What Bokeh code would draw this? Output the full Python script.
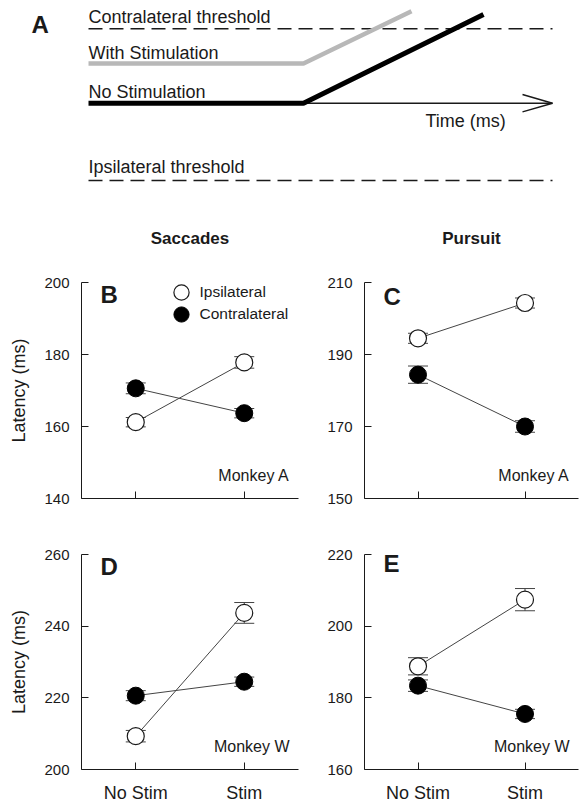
from bokeh.plotting import figure
from bokeh.layouts import column, row
from bokeh.models import (Range1d, FixedTicker, Whisker, TeeHead, ColumnDataSource,
                          Label, Legend, LegendItem, Title)
from bokeh.embed import file_html
from bokeh.resources import INLINE

FONT = "Liberation Sans"
INK = "#1a1a1a"
LINE_GRAY = "#444444"

# ---------------- data ----------------
conditions = ["No Stim", "Stim"]

# Panel B: Saccades, Monkey A
b_ipsi = [161.2, 177.8]
b_ipsi_err = [1.3, 1.6]
b_contra = [170.6, 163.7]
b_contra_err = [1.5, 1.3]

# Panel C: Pursuit, Monkey A
c_ipsi = [194.5, 204.3]
c_ipsi_err = [1.4, 1.4]
c_contra = [184.4, 170.0]
c_contra_err = [2.4, 1.6]

# Panel D: Saccades, Monkey W
d_ipsi = [209.3, 243.7]
d_ipsi_err = [1.6, 2.9]
d_contra = [220.6, 224.5]
d_contra_err = [1.4, 1.3]

# Panel E: Pursuit, Monkey W
e_ipsi = [188.8, 207.4]
e_ipsi_err = [2.4, 3.1]
e_contra = [183.4, 175.5]
e_contra_err = [1.6, 1.3]

b_ticks = [140, 160, 180, 200]
c_ticks = [150, 170, 190, 210]
d_ticks = [200, 220, 240, 260]
e_ticks = [160, 180, 200, 220]

# Panel A schematic (time vs. activity, drawn in schematic units)
sch_stim_t = [88, 303, 411]
sch_stim_a = [63, 63, 10.7]
sch_nostim_t = [88, 303, 483]
sch_nostim_a = [102.7, 102.7, 14]
sch_time_axis_t = [303, 552]
sch_time_axis_a = [102.7, 102.7]
sch_arrowhead_t = [522, 552, 522]
sch_arrowhead_a = [94, 102.7, 111.4]
sch_threshold_t = [88, 552]
sch_contra_thr = 28.3
sch_ipsi_thr = 180

PA_H = 186

# ---------------- panel A ----------------
pa = figure(width=579, height=PA_H, x_range=Range1d(0, 579), y_range=Range1d(PA_H, 0),
            toolbar_location=None, output_backend="svg", x_axis_location=None,
            y_axis_location=None, min_border=0, title=None)
pa.grid.visible = False
pa.outline_line_color = None

pa.line(sch_threshold_t, [sch_contra_thr] * 2, line_color=INK, line_width=1.5, line_dash="14 7")
pa.line(sch_threshold_t, [sch_ipsi_thr] * 2, line_color=INK, line_width=1.5, line_dash="14 7")
pa.line(sch_time_axis_t, sch_time_axis_a, line_color=INK, line_width=1.5)
pa.line(sch_arrowhead_t, sch_arrowhead_a, line_color=INK, line_width=1.5)
pa.line(sch_stim_t, sch_stim_a, line_color="#b8b8b8", line_width=4.5)
pa.line(sch_nostim_t, sch_nostim_a, line_color="black", line_width=5)

a_texts = [
    ("Contralateral threshold", 88, 16),
    ("With Stimulation", 88, 52),
    ("No Stimulation", 88, 91),
    ("Time (ms)", 425, 120),
    ("Ipsilateral threshold", 88, 166),
]
for t, x, y in a_texts:
    pa.add_layout(Label(x=x, y=y, text=t, text_font=FONT, text_font_size="18px",
                        text_color=INK, text_baseline="middle"))
pa.add_layout(Label(x=31, y=23.5, text="A", text_font=FONT, text_font_size="24px",
                    text_font_style="bold", text_color=INK, text_baseline="middle"))


# ---------------- panels B-E ----------------
def make_panel(letter, monkey, ipsi, ipsi_err, contra, contra_err, yticks,
               width, height, left, right, top, bottom, show_x, ylabel, title=None,
               legend=False, letter_dy=11.5):
    xs = list(range(len(conditions)))
    p = figure(width=width, height=height, x_range=Range1d(-0.5, 1.5),
               y_range=Range1d(yticks[0], yticks[-1]), toolbar_location=None,
               output_backend="svg", min_border_left=left, min_border_right=right,
               min_border_top=top, min_border_bottom=bottom, title=None)
    p.grid.visible = False
    p.outline_line_color = None
    p.background_fill_color = "white"

    frame_w = width - left - right
    frame_h = height - top - bottom

    src_i = ColumnDataSource(dict(x=xs, y=ipsi, lo=[v - e for v, e in zip(ipsi, ipsi_err)],
                                  hi=[v + e for v, e in zip(ipsi, ipsi_err)]))
    src_c = ColumnDataSource(dict(x=xs, y=contra, lo=[v - e for v, e in zip(contra, contra_err)],
                                  hi=[v + e for v, e in zip(contra, contra_err)]))

    p.line("x", "y", source=src_i, line_color=LINE_GRAY, line_width=1)
    p.line("x", "y", source=src_c, line_color=LINE_GRAY, line_width=1)
    for src in (src_i, src_c):
        w = Whisker(source=src, base="x", upper="hi", lower="lo", dimension="height",
                    line_color=LINE_GRAY, line_width=1,
                    upper_head=TeeHead(size=20, line_color=LINE_GRAY, line_width=1),
                    lower_head=TeeHead(size=20, line_color=LINE_GRAY, line_width=1))
        p.add_layout(w)
    r_c = p.scatter("x", "y", source=src_c, size=17, marker="circle", fill_color="black",
                    line_color="black", line_width=1)
    r_i = p.scatter("x", "y", source=src_i, size=17, marker="circle", fill_color="white",
                    line_color=INK, line_width=1.2)

    # axes
    p.xaxis.ticker = FixedTicker(ticks=xs)
    p.xaxis.major_label_overrides = {i: c for i, c in enumerate(conditions)}
    p.yaxis.ticker = FixedTicker(ticks=yticks)
    for ax in (p.xaxis[0], p.yaxis[0]):
        ax.axis_line_color = INK
        ax.major_tick_line_color = INK
        ax.major_tick_in = 7
        ax.major_tick_out = 0
        ax.minor_tick_line_color = None
        ax.major_label_text_font = FONT
        ax.major_label_text_color = INK
    p.yaxis.major_label_text_font_size = "15px"
    p.yaxis.major_label_standoff = 12
    if show_x:
        p.xaxis.major_label_text_font_size = "18px"
        p.xaxis.major_label_standoff = 13
    else:
        p.xaxis.major_label_text_font_size = "1px"
        p.xaxis.major_label_text_color = None
        p.xaxis.major_label_standoff = 0
    if ylabel:
        p.yaxis.axis_label = ylabel
        p.yaxis.axis_label_text_font = FONT
        p.yaxis.axis_label_text_font_size = "18px"
        p.yaxis.axis_label_text_font_style = "normal"
        p.yaxis.axis_label_text_color = INK
        p.yaxis.axis_label_standoff = 12

    if title:
        p.add_layout(Title(text=title, align="center", standoff=70, text_font=FONT,
                           text_font_size="17px", text_font_style="bold",
                           text_color=INK), "above")

    p.add_layout(Label(x=19, y=frame_h - letter_dy, x_units="screen", y_units="screen",
                       text=letter, text_font=FONT, text_font_size="24px",
                       text_font_style="bold", text_color=INK, text_baseline="middle"))
    p.add_layout(Label(x=frame_w - 9, y=23.5, x_units="screen", y_units="screen", text=monkey,
                       text_font=FONT, text_font_size="16px", text_color=INK,
                       text_align="right", text_baseline="middle"))

    if legend:
        common = dict(glyph_height=38, glyph_width=38, label_standoff=-2, padding=0, margin=0,
                      border_line_color=None, background_fill_alpha=0,
                      label_text_font=FONT, label_text_font_size="15.5px",
                      label_text_color=INK)
        lg1 = Legend(items=[LegendItem(label="Ipsilateral", renderers=[r_i])],
                     location=(80.5, frame_h - 19 - 9.5), **common)
        lg2 = Legend(items=[LegendItem(label="Contralateral", renderers=[r_c])],
                     location=(80.5, frame_h - 19 - 32), **common)
        p.add_layout(lg1)
        p.add_layout(lg2)
    return p


TOP_BC = 96
pb = make_panel("B", "Monkey A", b_ipsi, b_ipsi_err, b_contra, b_contra_err, b_ticks,
                300, TOP_BC + 216 + 32, 81, 2, TOP_BC, 32, False, "Latency (ms)", "Saccades",
                legend=True)
pc = make_panel("C", "Monkey A", c_ipsi, c_ipsi_err, c_contra, c_contra_err, c_ticks,
                279, TOP_BC + 216 + 32, 64, 1, TOP_BC, 32, False, None, "Pursuit", letter_dy=14)
pd = make_panel("D", "Monkey W", d_ipsi, d_ipsi_err, d_contra, d_contra_err, d_ticks,
                300, 275, 81, 2, 24, 35, True, "Latency (ms)", letter_dy=12.5)
pe = make_panel("E", "Monkey W", e_ipsi, e_ipsi_err, e_contra, e_contra_err, e_ticks,
                279, 275, 64, 1, 24, 35, True, None, letter_dy=10)

layout = column(pa, row(pb, pc, spacing=0), row(pd, pe, spacing=0), spacing=0)

with open("out.html", "w") as f:
    f.write(file_html(layout, INLINE))
